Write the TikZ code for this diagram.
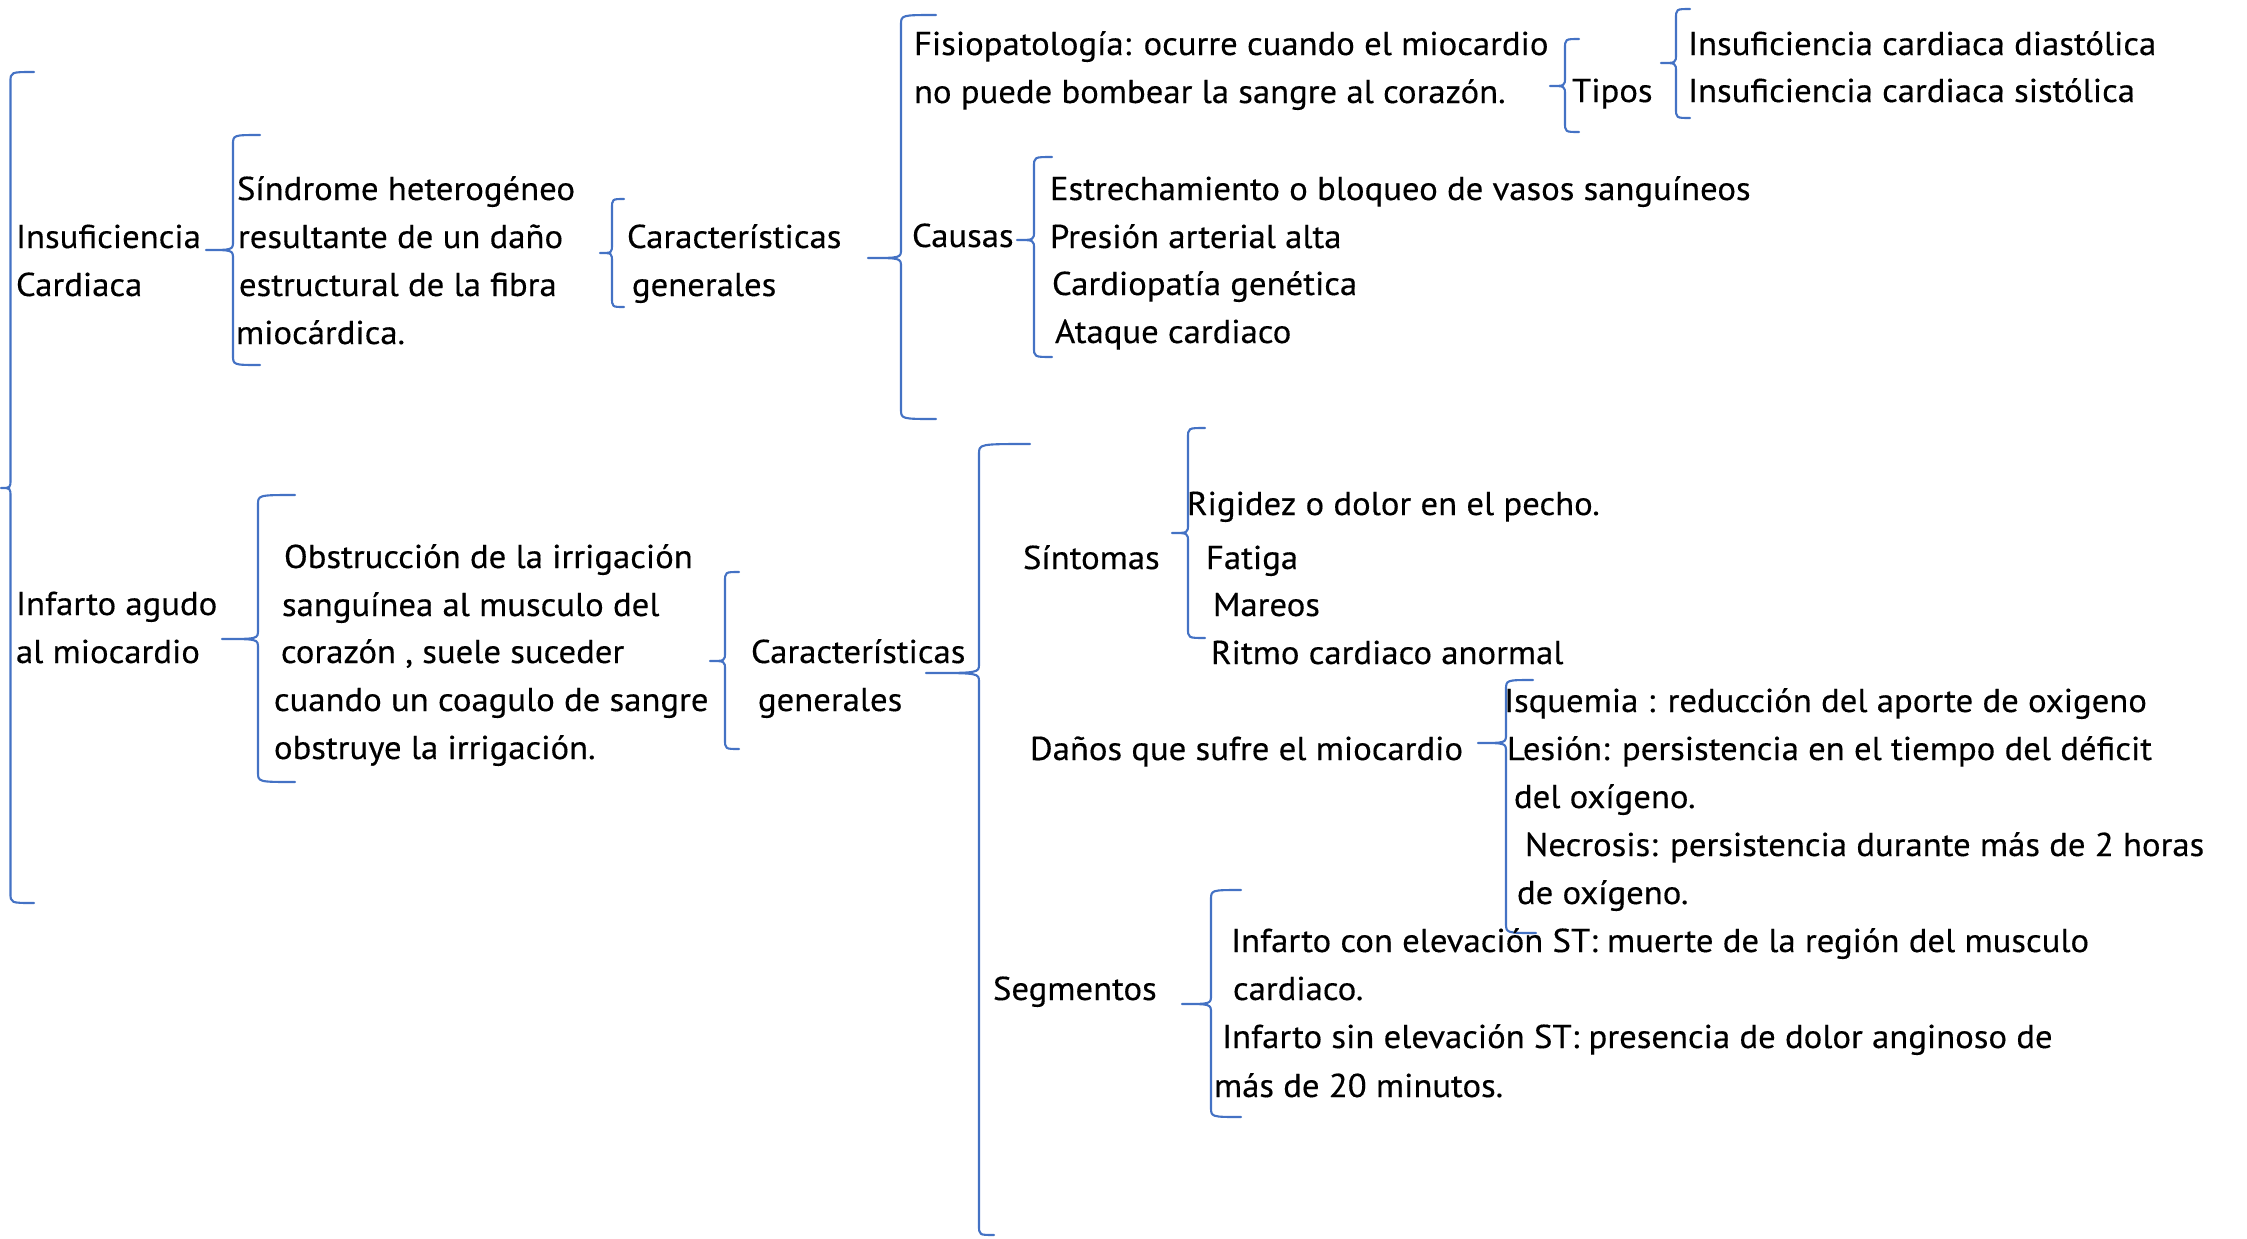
\documentclass[tikz,border=0pt]{standalone}
\usepackage{fontspec}
\setmainfont[FakeStretch=1.05,FakeBold=0.35]{PT Sans}
\definecolor{braceblue}{HTML}{4472C4}
\tikzset{
  bracestyle/.style={draw=braceblue, line width=0.6pt, line join=round, line cap=round},
  txt/.style={anchor=base west, inner sep=0pt, outer sep=0pt, font=\fontsize{9.4}{11}\selectfont},
}
% #1 vertical x, #2 top y, #3 bottom y, #4 tip x, #5 tip y, #6 top end x, #7 bottom end x
\newcommand\mybrace[7]{%
  \draw[bracestyle] (#6,#2) .. controls (#1,#2) .. (#1,#2+10) -- (#1,#5-9)
    .. controls (#1,#5) .. (#4,#5) .. controls (#1,#5) .. (#1,#5+9)
    -- (#1,#3-10) .. controls (#1,#3) .. (#7,#3);}
\begin{document}
\begin{tikzpicture}[x=0.01cm,y=-0.01cm]
\useasboundingbox (0,0) rectangle (2247,1239);
% ---------- braces ----------
\mybrace{10.5}{72}{903}{1}{488}{34}{34}
\mybrace{233}{135}{365}{206}{250}{260}{260}
\mybrace{612}{199}{307}{600}{253}{624}{624}
\mybrace{901}{15}{419}{868}{258}{936}{936}
\mybrace{1565}{39}{132}{1550}{86}{1579}{1579}
\mybrace{1676}{9}{118}{1661}{63}{1690}{1690}
\mybrace{1034}{157}{357}{1017}{240}{1052}{1052}
\mybrace{258}{495}{782}{222}{639}{295}{295}
\mybrace{725}{572}{749}{710}{661}{739}{739}
\mybrace{979}{444}{1235}{926}{673}{1030}{994}
\mybrace{1188}{428}{638}{1172}{533}{1205}{1205}
\mybrace{1506}{680}{933}{1478}{743}{1533}{1536}
\mybrace{1211}{890}{1117}{1182}{1004}{1241}{1241}
% ---------- level 0 ----------
\node[txt] (ic1) at (16,248) {Insuficiencia};
\node[txt] (ic2) at (16,296) {Cardiaca};
\node[txt] (ia1) at (16,615) {Infarto agudo};
\node[txt] (ia2) at (16,663) {al miocardio};
% ---------- level 1 ----------
\node[txt] (s1) at (237,200) {Síndrome heterogéneo};
\node[txt] (s2) at (238,248) {resultante de un daño};
\node[txt] (s3) at (239,296) {estructural de la fibra};
\node[txt] (s4) at (236,344) {miocárdica.};
\node[txt] (o1) at (284,568) {Obstrucción de la irrigación};
\node[txt] (o2) at (282,616) {sanguínea al musculo del};
\node[txt] (o3) at (281,663) {corazón , suele suceder};
\node[txt] (o4) at (274,711) {cuando un coagulo de sangre};
\node[txt] (o5) at (274,759) {obstruye la irrigación.};
% ---------- level 2 ----------
\node[txt] (c1a) at (627,248) {Características};
\node[txt] (c1b) at (632,296) {generales};
\node[txt] (c2a) at (751,663) {Características};
\node[txt] (c2b) at (758,711) {generales};
% ---------- upper branch ----------
\node[txt] (f1) at (914,55) {Fisiopatología: ocurre cuando el miocardio};
\node[txt] (f2) at (914,103) {no puede bombear la sangre al corazón.};
\node[txt] (tp) at (1572,102) {Tipos};
\node[txt] (t1) at (1688,55) {Insuficiencia cardiaca diastólica};
\node[txt] (t2) at (1688,102) {Insuficiencia cardiaca sistólica};
\node[txt] (cs) at (912,247) {Causas};
\node[txt] (k1) at (1050,200) {Estrechamiento o bloqueo de vasos sanguíneos};
\node[txt] (k2) at (1050,248) {Presión arterial alta};
\node[txt] (k3) at (1052,295) {Cardiopatía genética};
\node[txt] (k4) at (1055,343) {Ataque cardiaco};
% ---------- lower branch ----------
\node[txt] (sn) at (1023,569) {Síntomas};
\node[txt] (y1) at (1187,515) {Rigidez o dolor en el pecho.};
\node[txt] (y2) at (1206,569) {Fatiga};
\node[txt] (y3) at (1213,616) {Mareos};
\node[txt] (y4) at (1211,664) {Ritmo cardiaco anormal};
\node[txt] (dn) at (1030,760) {Daños que sufre el miocardio};
\node[txt] (d1) at (1504,712) {Isquemia : reducción del aporte de oxigeno};
\node[txt] (d2) at (1507,760) {Lesión: persistencia en el tiempo del déficit};
\node[txt] (d3) at (1514,808) {del oxígeno.};
\node[txt] (d4) at (1525,856) {Necrosis: persistencia durante más de 2 horas};
\node[txt] (d5) at (1517,904) {de oxígeno.};
\node[txt] (sg) at (993,1000) {Segmentos};
\node[txt] (g1) at (1231,952) {Infarto con elevación ST: muerte de la región del musculo};
\node[txt] (g2) at (1233,1000) {cardiaco.};
\node[txt] (g3) at (1222,1048) {Infarto sin elevación ST: presencia de dolor anginoso de};
\node[txt] (g4) at (1214,1097) {más de 20 minutos.};
\end{tikzpicture}
\end{document}
